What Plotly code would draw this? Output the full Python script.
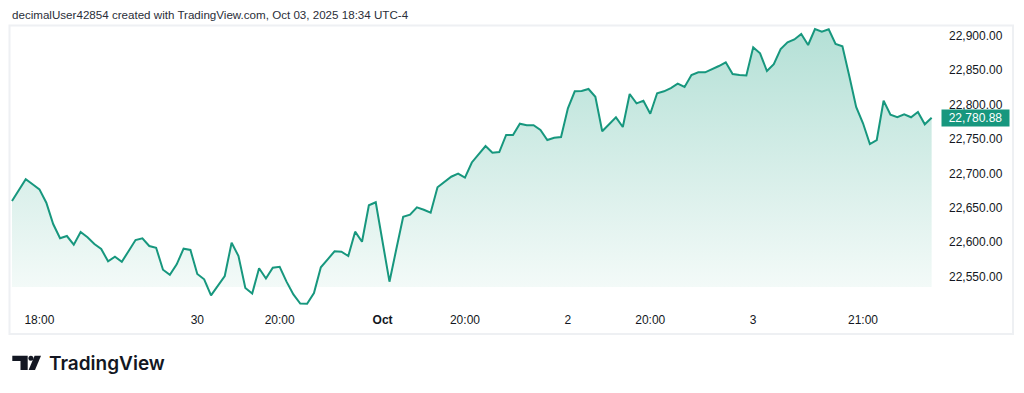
import numpy as np
import plotly.graph_objects as go

# ---------------- data ----------------
prices = [
    22659.9, 22675.9, 22691.5, 22684.2, 22676.9, 22657.5, 22626.5, 22605.8, 22609.1, 22596.5,
    22614.9, 22607.2, 22597.5, 22590.2, 22572.4, 22579.1, 22571.8, 22587.3, 22603.3, 22605.8,
    22594.6, 22592.1, 22560.2, 22552.9, 22568.0, 22590.7, 22588.8, 22553.9, 22546.2, 22523.0,
    22536.9, 22551.0, 22599.4, 22580.1, 22533.6, 22525.6, 22562.2, 22547.4, 22563.1, 22564.4,
    22542.8, 22524.2, 22511.1, 22510.7, 22526.3, 22563.7, 22575.3, 22586.9, 22586.3, 22580.1,
    22615.4, 22600.8, 22653.7, 22658.1, 22600.4, 22542.8, 22590.2, 22637.1, 22640.1, 22650.8,
    22647.3, 22643.0, 22679.8, 22688.0, 22695.2, 22699.6, 22693.8, 22715.9, 22727.5, 22739.8,
    22730.1, 22731.1, 22755.8, 22755.8, 22772.2, 22769.9, 22769.9, 22763.1, 22748.5, 22751.9,
    22752.9, 22794.6, 22819.3, 22819.7, 22822.6, 22811.4, 22761.2, 22771.8, 22781.5, 22767.4,
    22815.3, 22801.8, 22805.6, 22786.7, 22816.4, 22819.3, 22824.0, 22830.3, 22825.5, 22842.9,
    22846.8, 22846.8, 22851.2, 22856.0, 22861.4, 22844.4, 22842.9, 22842.2, 22883.2, 22874.4,
    22848.7, 22858.5, 22880.7, 22890.4, 22894.5, 22902.5, 22886.5, 22909.7, 22905.8, 22909.3,
    22887.9, 22884.6, 22841.5, 22796.5, 22772.8, 22742.7, 22748.5, 22805.6, 22785.3, 22781.6,
    22785.9, 22781.6, 22789.2, 22771.3, 22780.88,
]
bar_index = list(range(len(prices)))

time_tick_index = [4, 27, 39, 54, 66, 81, 93, 108, 124]
time_tick_labels = ["18:00", "30", "20:00", "<b>Oct</b>", "20:00", "2", "20:00", "3", "21:00"]

price_ticks = [22550, 22600, 22650, 22700, 22750, 22800, 22850, 22900]
last_price = prices[-1]

title_text = "decimalUser42854 created with TradingView.com, Oct 03, 2025 18:34 UTC-4"
fill_base = 22535.0

# ---------------- styling / geometry ----------------
W, H = 1024, 393
ML, MR, MT, MB = 10, 84, 26, 82
PW, PH = W - ML - MR, H - MT - MB
LINE = "#17977e"
TEXT = "#131722"
FONT = "Liberation Sans"


def px_x(px):
    return (px - ML) / PW


def px_y(py):
    return (H - MB - py) / PH


fig = go.Figure()

fill_y = np.maximum(np.array(prices), fill_base)
fig.add_trace(go.Scatter(x=bar_index, y=[fill_base] * len(prices), mode="lines",
                         line=dict(width=0), hoverinfo="skip", showlegend=False))
fig.add_trace(go.Scatter(
    x=bar_index, y=fill_y, mode="lines", line=dict(width=0), fill="tonexty",
    fillgradient=dict(type="vertical", start=fill_base, stop=max(prices),
                      colorscale=[[0, "rgb(243,250,248)"], [1, "rgb(180,224,214)"]]),
    hoverinfo="skip", showlegend=False))
fig.add_trace(go.Scatter(x=bar_index, y=prices, mode="lines",
                         line=dict(color=LINE, width=2), showlegend=False))

fig.update_layout(
    width=W, height=H, margin=dict(l=ML, r=MR, t=MT, b=MB),
    paper_bgcolor="white", plot_bgcolor="white",
    font=dict(family=FONT, color=TEXT, size=12),
    xaxis=dict(range=[(ML - 12) / 6.863, (ML + PW - 12) / 6.863],
               tickvals=time_tick_index, ticktext=time_tick_labels,
               showgrid=False, zeroline=False, showline=False, ticks="",
               tickfont=dict(size=12, color=TEXT, family=FONT)),
    yaxis=dict(range=[22500.2, 22914.1], side="right", tickvals=price_ticks,
               tickformat=",.2f", showgrid=False, zeroline=False, showline=False,
               ticks="", ticklabelstandoff=8,
               tickfont=dict(size=12, color=TEXT, family=FONT)),
)

# frame
fig.add_shape(type="rect", xref="paper", yref="paper",
              x0=px_x(9.5), x1=px_x(1013), y0=px_y(334), y1=px_y(25.5),
              line=dict(color="#eef0f3", width=2), layer="below")

# last price label
fig.add_annotation(x=px_x(940.7), xref="paper", y=last_price, yref="y",
                   xanchor="left", yanchor="middle", text=f"{last_price:,.2f}",
                   showarrow=False, bgcolor=LINE, borderpad=1, width=65, height=14,
                   font=dict(color="white", size=12, family=FONT))

# title
fig.add_annotation(x=px_x(10), xref="paper", y=px_y(14), yref="paper",
                   xanchor="left", yanchor="middle", text=title_text, showarrow=False,
                   font=dict(size=11.6, color="#2a2e39", family=FONT))

# TradingView logo
def path(points):
    return "M" + " L".join(f"{px_x(a):.5f},{px_y(b):.5f}" for a, b in points) + " Z"

fig.add_shape(type="path", xref="paper", yref="paper", line=dict(width=0), fillcolor=TEXT,
              path=path([(12.3, 355.7), (27.7, 355.7), (27.7, 370), (20.5, 370), (20.5, 361), (12.3, 361)]))
fig.add_shape(type="path", xref="paper", yref="paper", line=dict(width=0), fillcolor=TEXT,
              path=path([(34.6, 355.7), (41.0, 355.7), (35.0, 370), (28.6, 370)]))
fig.add_shape(type="circle", xref="paper", yref="paper", line=dict(width=0), fillcolor=TEXT,
              x0=px_x(28.4), x1=px_x(33.4), y0=px_y(360.8), y1=px_y(355.8))
fig.add_annotation(x=px_x(47), xref="paper", y=px_y(363), yref="paper",
                   xanchor="left", yanchor="middle", text="TradingView", showarrow=False,
                   font=dict(size=19, color=TEXT, family="Inter", weight=600))

fig.write_html("out.html", config={"displayModeBar": False},
               post_script="document.body.style.margin='0';")
